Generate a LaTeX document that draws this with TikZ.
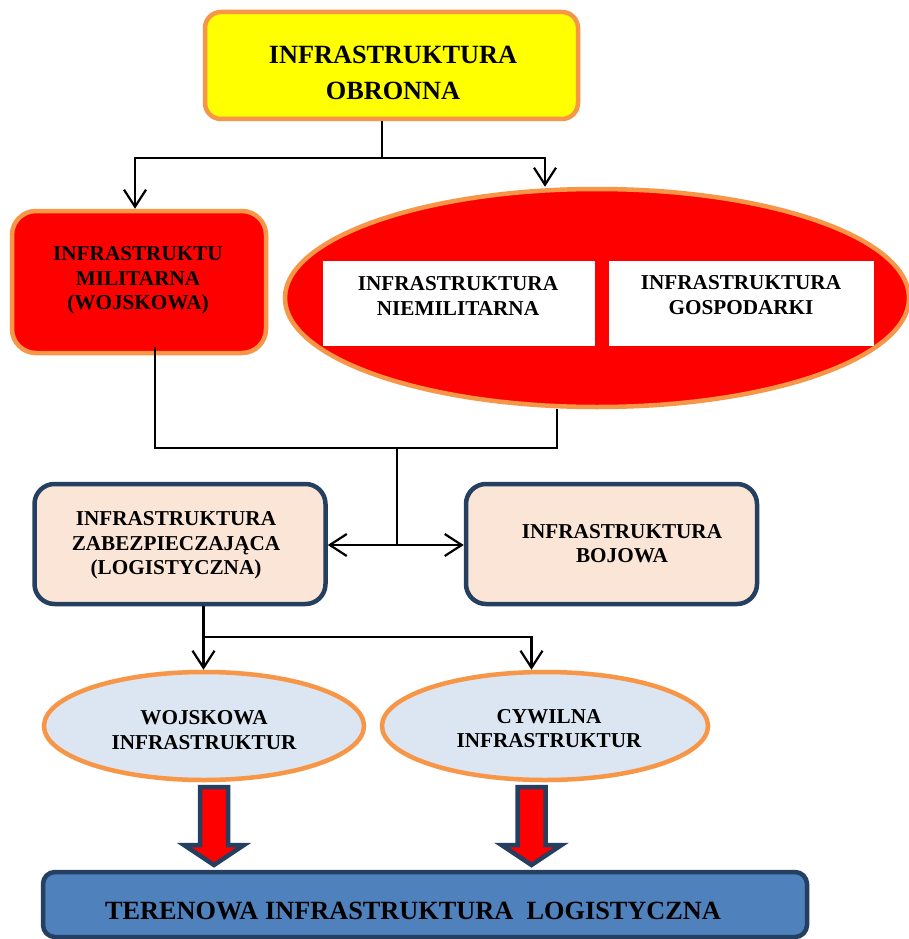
\documentclass[tikz,border=0pt]{standalone}
\usepackage{fontspec}
\setmainfont{Liberation Serif}
\usetikzlibrary{arrows.meta,shapes.geometric,calc}
\definecolor{orng}{HTML}{F79646}
\definecolor{dkblue}{HTML}{243F60}
\definecolor{peach}{HTML}{FBE5D6}
\definecolor{lightbl}{HTML}{DCE6F2}
\definecolor{midbl}{HTML}{4F81BD}
\definecolor{yel}{HTML}{FFFF00}
\definecolor{rd}{HTML}{FF0000}
\newcommand\blockarrowshape[1]{\draw[blk] (#1-14,787) -- (#1-14,845) -- (#1-30,845) -- (#1,865) -- (#1+30,845) -- (#1+14,845) -- (#1+14,787) -- cycle;}
\tikzset{
  orbox/.style={draw=orng, line width=4.5pt, inner sep=0pt},
  dbbox/.style={draw=dkblue, line width=4.5pt, inner sep=0pt},
  conn/.style={draw=black, line width=2.2pt},
  arr/.style={conn, -{Straight Barb[length=17pt,width=22pt]}},
  blk/.style={fill=rd, draw=dkblue, line width=4.5pt, line join=miter},
  lbl/.style={inner sep=0pt, align=center},
  big/.style={lbl, font=\fontsize{26.3}{36}\selectfont\bfseries},
  small/.style={lbl, font=\fontsize{21.2}{24.5}\selectfont\bfseries},
}
\begin{document}
\begin{tikzpicture}[x=1pt,y=-1pt]
\fill[white] (0,0) rectangle (909,939);
\useasboundingbox (0,0) rectangle (909,939);
% shapes
\node[orbox, fill=yel, rounded corners=16pt, minimum width=373pt, minimum height=107pt] (topB) at (391.5,65.5) {};
\node[orbox, fill=rd, rounded corners=24pt, minimum width=254pt, minimum height=142pt] (redB) at (139,282) {};
\node[orbox, fill=rd, ellipse, minimum width=624pt, minimum height=218pt] (ellB) at (597,298) {};
\node[fill=white, inner sep=0pt, minimum width=272pt, minimum height=85pt] (nmB) at (459,303.5) {};
\node[fill=white, inner sep=0pt, minimum width=265pt, minimum height=85pt] (gospB) at (741.5,303.5) {};
\node[dbbox, fill=peach, rounded corners=20pt, minimum width=291pt, minimum height=120pt] (zabB) at (180,544) {};
\node[dbbox, fill=peach, rounded corners=20pt, minimum width=291pt, minimum height=120pt] (bojB) at (611.5,544) {};
\node[orbox, fill=lightbl, ellipse, minimum width=320pt, minimum height=108pt] (wojE) at (204,726) {};
\node[orbox, fill=lightbl, ellipse, minimum width=326pt, minimum height=108pt] (cywE) at (545,726) {};
\node[dbbox, fill=midbl, rounded corners=12pt, minimum width=764pt, minimum height=65pt] (terB) at (425,904.5) {};
% texts
\node[big] (topT) at (393,73) {INFRASTRUKTURA\\OBRONNA};
\node[small] (redT) at (138,280.5) {INFRASTRUKTU\\MILITARNA\\(WOJSKOWA)};
\node[small] (nmT) at (458,296) {INFRASTRUKTURA\\NIEMILITARNA};
\node[small] (gospT) at (741,295) {INFRASTRUKTURA\\GOSPODARKI};
\node[small] (zabT) at (176,545.5) {INFRASTRUKTURA\\ZABEZPIECZAJĄCA\\(LOGISTYCZNA)};
\node[small] (bojT) at (622,543.5) {INFRASTRUKTURA\\BOJOWA};
\node[small] (wojT) at (204,730) {WOJSKOWA\\INFRASTRUKTUR};
\node[small] (cywT) at (549,728.5) {CYWILNA\\INFRASTRUKTUR};
\node[big] (terT) at (413,910.5) {TERENOWA INFRASTRUKTURA\ \ LOGISTYCZNA};
% junctions
\coordinate (j1) at (382,158);
\coordinate (j2) at (397,448);
\coordinate (j3) at (397,545);
\coordinate (j4) at (203.5,637);
% connectors
\draw[conn] (j1 |- topB.south) -- (j1);
\draw[arr] (j1) -| ([xshift=-4pt]redB.north);
\draw[arr] (j1) -| ([xshift=-52pt]ellB.north);
\draw[conn] ([xshift=16pt,yshift=8pt]redB.south) |- (j2) -| ([xshift=-40pt]ellB.south);
\draw[conn] (j2) -- (j3);
\draw[arr] (j3) -- (zabB.east |- j3);
\draw[arr] (j3) -- (bojB.west |- j3);
\draw[arr] ([xshift=23.5pt]zabB.south) -- ([xshift=-0.5pt]wojE.north);
\draw[arr] (j4) -| ([xshift=-13.5pt]cywE.north);
% block arrows
\blockarrowshape{214}
\blockarrowshape{531.5}
\end{tikzpicture}
\end{document}
